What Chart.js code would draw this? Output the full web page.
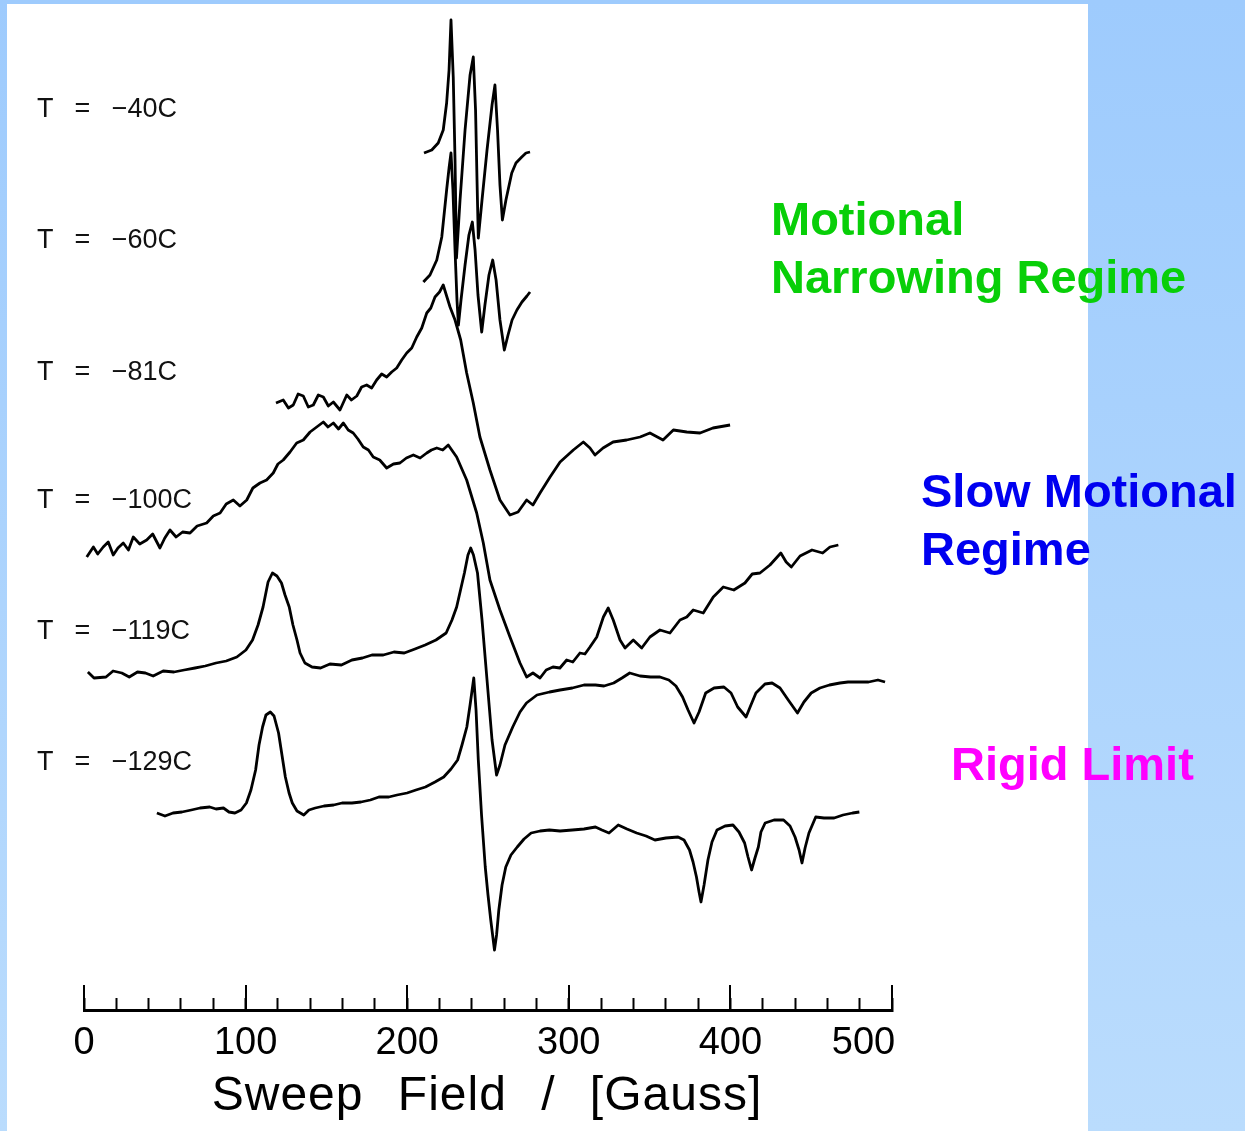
<!DOCTYPE html>
<html>
<head>
<meta charset="utf-8">
<script src="https://cdn.jsdelivr.net/npm/chart.js@4.4.1/dist/chart.umd.min.js"></script>
<style>
  html, body { margin: 0; padding: 0; }
  body { width: 1245px; height: 1131px; position: relative; overflow: hidden;
         background: linear-gradient(#9ecbfd, #badcfd); }
  #panel { position: absolute; left: 7px; top: 4px; width: 1081px; height: 1127px; background: #fff; }
  #chart { position: absolute; left: 0; top: 0; }
  .temp { position: absolute; left: 37px; font: 27px "Liberation Sans", Arial, sans-serif;
          line-height: 27px; word-spacing: 14px; color: #111; white-space: nowrap; }
  .note { position: absolute; font: bold 47px "Liberation Sans", Arial, sans-serif;
          line-height: 47px; white-space: nowrap; }
  #xtitle { position: absolute; left: 0; width: 974px; text-align: center; top: 1070px;
            font: 48px "Liberation Sans", Arial, sans-serif; line-height: 48px;
            letter-spacing: 1px; word-spacing: 20px; color: #000; white-space: nowrap; }
</style>
</head>
<body>
<div id="panel"></div>
<canvas id="chart" width="1245" height="1131"></canvas>

<div class="temp" style="top:95px">T = −40C</div>
<div class="temp" style="top:226px">T = −60C</div>
<div class="temp" style="top:358px">T = −81C</div>
<div class="temp" style="top:486px">T = −100C</div>
<div class="temp" style="top:617px">T = −119C</div>
<div class="temp" style="top:748px">T = −129C</div>

<div id="xtitle">Sweep Field / [Gauss]</div>

<div class="note" style="left:771px;top:195px;color:#08cf08">Motional</div>
<div class="note" style="left:771px;top:253px;color:#08cf08">Narrowing Regime</div>
<div class="note" style="left:921px;top:467px;color:#0000f0">Slow Motional</div>
<div class="note" style="left:921px;top:525px;color:#0000f0">Regime</div>
<div class="note" style="left:951px;top:740px;color:#ff00ff">Rigid Limit</div>

<script>
// sweep field (G) and stacked signal (arb. units, each trace offset) per temperature
const fieldT40 = [
  210.4, 215.2, 219.2, 222.3, 224.4, 225.9, 227.1, 228.5, 229.6, 230.5,
  232.7, 235.8, 238.9, 240.9, 242.3, 243.2, 244.0, 246.3, 249.4, 252.5,
  254.3, 255.9, 257.4, 258.9, 261.1, 264.7, 267.3, 270.9, 273.5, 276.0];
const signalT40 = [
  85.7, 86.0, 86.7, 88.0, 90.7, 94.0, 99.0, 93.3, 85.0, 75.2,
  81.0, 88.0, 93.5, 95.3, 90.0, 83.0, 77.2, 81.0, 86.0, 90.5,
  92.5, 88.0, 82.5, 79.0, 81.0, 83.7, 84.7, 85.3, 85.7, 85.8];

const fieldT60 = [
  210.0, 214.1, 218.3, 221.4, 224.4, 225.9, 227.1, 228.3, 229.6, 230.8,
  231.7, 233.3, 235.8, 238.2, 240.3, 242.0, 243.8, 246.1, 248.1, 250.6,
  252.9, 255.0, 257.4, 260.1, 262.4, 264.9, 267.9, 271.0, 274.1, 276.0];
const signalT60 = [
  72.8, 73.5, 75.0, 77.3, 82.0, 84.2, 85.7, 82.0, 76.0, 71.0,
  68.5, 71.0, 74.5, 77.5, 78.8, 76.0, 71.5, 67.8, 70.5, 73.5,
  75.0, 73.0, 69.0, 66.0, 67.5, 69.0, 70.0, 70.8, 71.4, 71.8];

const fieldT81 = [
  118.8, 123.3, 126.5, 129.5, 132.5, 135.7, 138.8, 141.9, 145.0, 148.1,
  151.2, 154.3, 158.4, 162.6, 165.5, 168.8, 171.8, 174.9, 178.0, 181.1,
  184.2, 187.3, 190.4, 193.5, 196.6, 199.7, 202.8, 205.9, 209.0, 212.1,
  214.6, 217.2, 220.0, 222.3, 226.5, 229.6, 233.1, 236.8, 240.9, 245.0,
  251.2, 257.4, 263.6, 268.6, 273.9, 277.8, 282.2, 288.4, 294.6, 302.8,
  309.0, 313.1, 316.2, 321.2, 327.4, 335.8, 344.1, 350.2, 358.3, 364.7,
  373.0, 381.2, 389.2, 399.8];
const signalT81 = [
  60.7, 61.0, 60.2, 60.5, 61.6, 61.4, 60.3, 60.5, 61.5, 61.3,
  60.4, 60.8, 60.0, 61.5, 61.0, 61.4, 62.3, 62.5, 62.2, 63.0,
  63.6, 63.3, 63.8, 64.2, 65.0, 65.7, 66.2, 67.3, 68.2, 69.7,
  70.2, 71.3, 71.8, 72.5, 70.3, 69.0, 67.0, 63.7, 60.7, 57.3,
  54.0, 51.0, 49.5, 49.8, 51.0, 50.5, 51.7, 53.3, 54.8, 56.0,
  56.8, 56.2, 55.5, 56.2, 56.8, 57.0, 57.3, 57.7, 57.0, 58.0,
  57.8, 57.7, 58.2, 58.5];

const fieldT100 = [
  1.7, 5.8, 8.5, 11.9, 15.0, 18.1, 21.0, 24.3, 27.5, 30.5,
  34.5, 38.8, 42.5, 47.0, 50.0, 53.2, 57.0, 61.0, 65.6, 70.0,
  75.9, 80.0, 84.2, 88.0, 92.4, 96.5, 100.7, 104.5, 108.9, 113.0,
  117.1, 120.0, 123.3, 127.5, 131.6, 135.7, 139.9, 144.0, 148.1, 151.0,
  154.3, 157.5, 160.5, 163.5, 166.6, 169.5, 172.8, 176.0, 179.0, 183.0,
  187.3, 191.5, 195.5, 199.5, 203.8, 208.0, 212.1, 215.0, 218.3, 222.0,
  225.4, 230.6, 236.8, 243.0, 247.1, 251.2, 257.4, 263.6, 269.8, 273.9,
  277.8, 282.2, 286.0, 290.2, 294.5, 298.7, 302.5, 306.9, 310.0, 313.1,
  317.3, 321.4, 324.4, 327.5, 331.7, 334.8, 339.9, 345.1, 350.2, 356.4,
  362.6, 368.8, 373.0, 377.0, 383.2, 389.4, 395.6, 402.1, 409.0, 413.5,
  418.3, 424.5, 431.2, 434.5, 437.7, 443.1, 450.5, 457.1, 461.6, 466.8];
const signalT100 = [
  45.3, 46.3, 45.6, 46.3, 46.8, 45.5, 46.2, 46.7, 46.0, 47.3,
  46.6, 47.0, 47.6, 46.2, 47.2, 48.0, 47.3, 47.8, 47.7, 48.4,
  48.7, 49.4, 49.7, 50.6, 51.0, 50.4, 51.0, 52.2, 52.7, 53.0,
  53.7, 54.6, 55.0, 55.8, 56.7, 57.0, 57.8, 58.3, 58.8, 58.3,
  58.7, 58.1, 58.7, 58.0, 57.7, 57.1, 56.3, 56.0, 55.3, 55.0,
  54.2, 54.6, 54.7, 55.2, 55.5, 55.2, 55.7, 56.0, 56.2, 56.0,
  56.5, 55.3, 53.0, 49.7, 46.7, 43.0, 40.0, 37.3, 34.7, 33.3,
  33.7, 33.2, 34.0, 34.3, 34.2, 35.0, 34.8, 35.7, 35.6, 36.3,
  37.3, 39.3, 40.2, 39.0, 37.0, 36.2, 37.0, 36.2, 37.3, 38.0,
  37.7, 39.0, 39.3, 40.0, 39.7, 41.3, 42.3, 42.0, 42.7, 43.6,
  43.7, 44.5, 45.7, 44.8, 44.3, 45.4, 46.0, 45.7, 46.3, 46.5];

const fieldT119 = [
  2.4, 6.2, 13.6, 18.0, 23.4, 28.0, 33.1, 38.0, 42.8, 49.0,
  55.7, 62.0, 68.7, 75.0, 81.7, 88.0, 94.6, 100.2, 104.3, 107.7,
  110.8, 113.9, 116.6, 119.4, 122.2, 124.4, 127.0, 129.3, 131.8, 133.7,
  136.7, 141.1, 146.4, 152.2, 159.3, 165.8, 172.3, 178.2, 185.2, 191.8,
  198.2, 204.8, 211.1, 217.8, 224.1, 227.7, 230.6, 233.0, 235.4, 237.6,
  239.3, 241.0, 243.5, 246.3, 249.4, 252.5, 255.3, 257.4, 260.5, 265.3,
  269.8, 273.8, 280.3, 288.1, 294.6, 302.2, 309.4, 316.5, 321.8, 327.8,
  332.9, 337.7, 344.1, 350.6, 356.4, 361.9, 366.3, 370.4, 373.8, 377.5,
  380.6, 384.7, 389.9, 396.0, 400.4, 404.5, 409.7, 412.7, 415.8, 421.4,
  425.8, 430.7, 435.8, 441.5, 445.5, 450.0, 455.4, 461.3, 467.8, 472.8,
  479.0, 485.5, 491.3, 495.7];
const signalT119 = [
  33.8, 33.2, 33.3, 33.9, 33.7, 33.3, 33.8, 33.7, 33.4, 33.9,
  33.8, 34.0, 34.2, 34.4, 34.7, 34.9, 35.3, 36.0, 37.0, 38.5,
  40.3, 42.8, 43.7, 43.4, 42.7, 41.5, 40.3, 38.5, 37.0, 35.7,
  34.7, 34.3, 34.2, 34.6, 34.5, 35.0, 35.2, 35.5, 35.5, 35.8,
  35.7, 36.1, 36.5, 37.0, 37.7, 39.0, 40.3, 42.0, 43.7, 45.5,
  46.2, 45.5, 43.7, 39.0, 33.0, 27.0, 23.5, 24.5, 26.5, 28.3,
  29.8, 30.7, 31.5, 31.8, 32.0, 32.2, 32.5, 32.5, 32.4, 32.7,
  33.2, 33.7, 33.4, 33.3, 33.3, 33.0, 32.4, 31.3, 30.0, 28.7,
  29.8, 31.7, 32.2, 32.3, 31.7, 30.3, 29.3, 30.5, 31.7, 32.6,
  32.7, 32.2, 31.0, 29.7, 30.8, 31.7, 32.2, 32.5, 32.7, 32.8,
  32.8, 32.8, 33.0, 32.8];

const fieldT129 = [
  45.1, 50.1, 55.1, 60.6, 66.4, 71.8, 77.8, 81.7, 86.3, 89.7,
  93.4, 97.2, 100.5, 103.3, 106.2, 108.3, 110.5, 112.6, 115.3, 117.6,
  120.4, 122.5, 124.6, 126.9, 128.9, 131.8, 136.0, 139.2, 143.1, 148.5,
  154.5, 159.7, 165.8, 171.4, 177.2, 182.5, 188.6, 193.7, 199.9, 205.4,
  211.3, 217.2, 222.6, 227.1, 231.2, 233.9, 236.9, 238.9, 241.2, 242.6,
  244.0, 246.0, 248.3, 250.0, 251.7, 254.0, 255.3, 256.7, 258.7, 261.0,
  264.2, 268.1, 272.3, 276.7, 282.2, 288.0, 294.6, 302.2, 309.4, 316.5,
  320.5, 324.9, 330.6, 336.0, 342.0, 347.8, 353.3, 360.1, 367.6, 371.3,
  374.7, 376.9, 379.0, 380.6, 381.8, 383.7, 386.1, 388.6, 391.7, 396.7,
  401.6, 405.3, 408.8, 410.9, 413.1, 415.2, 417.3, 418.9, 421.5, 427.0,
  432.9, 436.9, 440.0, 442.5, 444.3, 446.2, 448.6, 452.8, 457.9, 464.2,
  469.7, 475.6, 479.8];
const signalT129 = [
  19.7, 19.4, 19.7, 19.8, 20.0, 20.2, 20.3, 20.1, 20.2, 19.8,
  19.7, 20.0, 20.7, 22.0, 24.0, 26.5, 28.3, 29.5, 29.8, 29.4,
  27.7, 25.5, 23.3, 21.7, 20.7, 19.9, 19.5, 20.0, 20.2, 20.4,
  20.5, 20.7, 20.7, 20.8, 21.0, 21.3, 21.3, 21.5, 21.7, 22.0,
  22.3, 22.8, 23.3, 24.1, 25.0, 26.5, 28.3, 30.5, 33.2, 30.0,
  25.0, 19.5, 14.3, 11.5, 9.0, 6.0, 7.5, 10.0, 12.5, 14.3,
  15.5, 16.3, 17.1, 17.7, 17.9, 18.0, 17.9, 18.0, 18.1, 18.3,
  18.0, 17.7, 18.5, 18.1, 17.7, 17.4, 17.0, 17.2, 17.3, 17.0,
  16.0, 14.8, 13.3, 11.8, 10.8, 12.5, 15.0, 16.8, 18.0, 18.4,
  18.5, 17.8, 16.7, 15.3, 14.0, 15.2, 16.3, 17.8, 18.7, 19.0,
  19.0, 18.4, 17.3, 16.0, 14.7, 16.2, 17.7, 19.3, 19.2, 19.2,
  19.5, 19.7, 19.8];

const traces = [
  ['T = -40C', fieldT40, signalT40],
  ['T = -60C', fieldT60, signalT60],
  ['T = -81C', fieldT81, signalT81],
  ['T = -100C', fieldT100, signalT100],
  ['T = -119C', fieldT119, signalT119],
  ['T = -129C', fieldT129, signalT129]
];

const fieldTicks = [0, 100, 200, 300, 400, 500];

const datasets = traces.map(([label, xs, ys]) => ({
  label,
  data: xs.map((x, i) => ({ x, y: ys[i] })),
  borderColor: '#000',
  borderWidth: 2.8,
  borderJoinStyle: 'round',
  pointRadius: 0,
  fill: false,
  tension: 0
}));

// long ticks every 100 G (the axis itself draws the short ones)
const majorTicks = {
  id: 'majorTicks',
  afterDraw(chart) {
    const sx = chart.scales.x, c = chart.ctx;
    c.save();
    c.strokeStyle = '#000';
    c.lineWidth = 2;
    fieldTicks.forEach(v => {
      const px = Math.round(sx.getPixelForValue(v));
      c.beginPath();
      c.moveTo(px, sx.top + 1);
      c.lineTo(px, sx.top - 25);
      c.stroke();
    });
    c.restore();
  }
};

new Chart(document.getElementById('chart'), {
  type: 'line',
  data: { datasets },
  options: {
    responsive: false,
    animation: false,
    layout: { padding: { left: 84, right: 353, top: 10, bottom: 0 } },
    plugins: { legend: { display: false }, tooltip: { enabled: false } },
    scales: {
      x: {
        type: 'linear',
        min: 0,
        max: 500,
        afterFit: s => { s.height = 121; },
        ticks: {
          stepSize: 20,
          autoSkip: false,
          maxRotation: 0,
          padding: 27,
          color: '#000',
          font: { family: 'Liberation Sans', size: 38, lineHeight: 1 },
          // last label sits pulled in from the axis end, as in the original
          callback: v => !fieldTicks.includes(v) ? '' : (v === 500 ? '500\u2002\u2002\u2002' : String(v))
        },
        grid: { drawOnChartArea: false, drawTicks: true, tickLength: -12, tickWidth: 2, tickColor: '#000' },
        border: { display: true, width: 3, color: '#000' },
        title: { display: false }
      },
      y: { display: false, min: 0, max: 100 }
    }
  },
  plugins: [majorTicks]
});
</script>
</body>
</html>
